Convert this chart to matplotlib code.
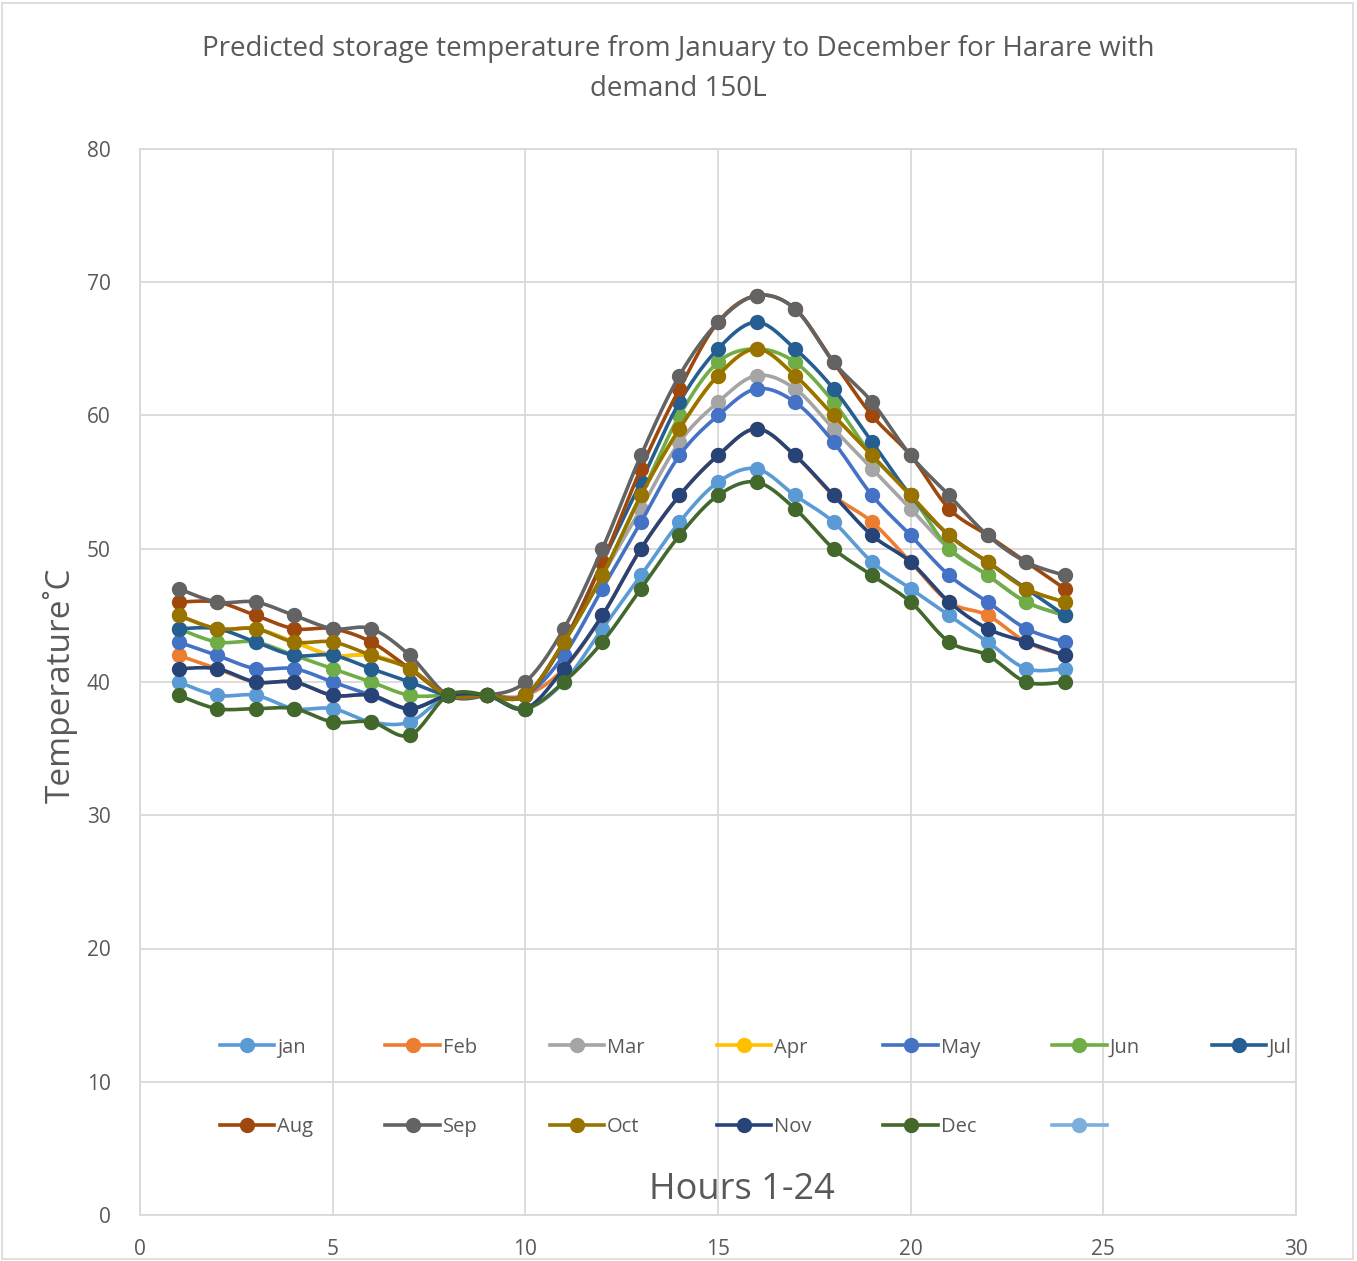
import numpy as np
import matplotlib
matplotlib.use('Agg')
import matplotlib.pyplot as plt
from matplotlib.lines import Line2D
from matplotlib.patches import Rectangle

plt.rcParams['font.family'] = ['Open Sans', 'DejaVu Sans']

hours = list(range(1, 25))
months = ['jan', 'Feb', 'Mar', 'Apr', 'May', 'Jun', 'Jul', 'Aug', 'Sep', 'Oct', 'Nov', 'Dec']
colors = ['#5B9BD5', '#ED7D31', '#A5A5A5', '#FFC000', '#4472C4', '#70AD47',
          '#255E91', '#9E480E', '#636363', '#997300', '#264478', '#43682B']
extra_color = '#7CAFDD'

jan = [40, 39, 39, 38, 38, 37, 37, 39, 39, 38, 40, 44, 48, 52, 55, 56, 54, 52, 49, 47, 45, 43, 41, 41]
feb = [42, 41, 40, 40, 39, 39, 38, 39, 39, 39, 41, 45, 50, 54, 57, 59, 57, 54, 52, 49, 46, 45, 43, 42]
mar = [45, 44, 44, 43, 42, 42, 41, 39, 39, 39, 43, 48, 53, 58, 61, 63, 62, 59, 56, 53, 50, 48, 46, 45]
apr = [45, 44, 44, 43, 42, 42, 41, 39, 39, 39, 43, 48, 54, 59, 63, 65, 63, 60, 57, 54, 51, 49, 47, 46]
may = [43, 42, 41, 41, 40, 39, 38, 39, 39, 39, 42, 47, 52, 57, 60, 62, 61, 58, 54, 51, 48, 46, 44, 43]
jun = [44, 43, 43, 42, 41, 40, 39, 39, 39, 39, 43, 48, 54, 60, 64, 65, 64, 61, 57, 54, 50, 48, 46, 45]
jul = [44, 44, 43, 42, 42, 41, 40, 39, 39, 39, 43, 49, 55, 61, 65, 67, 65, 62, 58, 54, 51, 49, 47, 45]
aug = [46, 46, 45, 44, 44, 43, 41, 39, 39, 39, 43, 49, 56, 62, 67, 69, 68, 64, 60, 57, 53, 51, 49, 47]
sep = [47, 46, 46, 45, 44, 44, 42, 39, 39, 40, 44, 50, 57, 63, 67, 69, 68, 64, 61, 57, 54, 51, 49, 48]
oct_ = [45, 44, 44, 43, 43, 42, 41, 39, 39, 39, 43, 48, 54, 59, 63, 65, 63, 60, 57, 54, 51, 49, 47, 46]
nov = [41, 41, 40, 40, 39, 39, 38, 39, 39, 38, 41, 45, 50, 54, 57, 59, 57, 54, 51, 49, 46, 44, 43, 42]
dec = [39, 38, 38, 38, 37, 37, 36, 39, 39, 38, 40, 43, 47, 51, 54, 55, 53, 50, 48, 46, 43, 42, 40, 40]
series = [jan, feb, mar, apr, may, jun, jul, aug, sep, oct_, nov, dec]


def smooth(x, y, n=20):
    # catmull-rom style curve like excel's smoothed lines
    x = np.asarray(x, float)
    y = np.asarray(y, float)
    px = np.concatenate([[x[0]], x, [x[-1]]])
    py = np.concatenate([[y[0]], y, [y[-1]]])
    t = np.linspace(0, 1, n, endpoint=False)
    xs, ys = [], []
    for i in range(1, len(px) - 2):
        b0x, b0y = px[i], py[i]
        b3x, b3y = px[i + 1], py[i + 1]
        b1x = b0x + (px[i + 1] - px[i - 1]) / 6
        b1y = b0y + (py[i + 1] - py[i - 1]) / 6
        b2x = b3x - (px[i + 2] - px[i]) / 6
        b2y = b3y - (py[i + 2] - py[i]) / 6
        xs.append((1 - t) ** 3 * b0x + 3 * (1 - t) ** 2 * t * b1x + 3 * (1 - t) * t ** 2 * b2x + t ** 3 * b3x)
        ys.append((1 - t) ** 3 * b0y + 3 * (1 - t) ** 2 * t * b1y + 3 * (1 - t) * t ** 2 * b2y + t ** 3 * b3y)
    xs.append([x[-1]])
    ys.append([y[-1]])
    return np.concatenate(xs), np.concatenate(ys)


fig = plt.figure(figsize=(13.57, 12.61), dpi=100)
ax = fig.add_axes([140 / 1357, 1 - 1215 / 1261, 1156 / 1357, 1066 / 1261])

lw = 2.6
ms = 10
handles = []
for name, vals, c in zip(months, series, colors):
    sx, sy = smooth(hours, vals)
    ax.plot(sx, sy, color=c, lw=lw, solid_capstyle='round', zorder=3)
    ax.plot(hours, vals, 'o', color=c, ms=ms, zorder=3)
    handles.append(Line2D([], [], color=c, lw=lw, marker='o', ms=ms))
handles.append(Line2D([], [], color=extra_color, lw=lw, marker='o', ms=ms))
labels = months + ['']

ax.set_xlim(0, 30)
ax.set_ylim(0, 80)
ax.set_xticks(range(0, 31, 5))
ax.set_yticks(range(0, 81, 10))
ax.grid(True, color='#D9D9D9', lw=1.3, zorder=0)
ax.set_axisbelow(True)
for s in ax.spines.values():
    s.set_color('#D9D9D9')
    s.set_linewidth(1.3)
ax.tick_params(length=0, labelsize=15, labelcolor='#595959')
ax.tick_params(axis='x', pad=17)
ax.tick_params(axis='y', pad=21)

# legend in row order (matplotlib fills columns first)
order = [0, 7, 1, 8, 2, 9, 3, 10, 4, 11, 5, 12, 6]
leg = ax.legend([handles[i] for i in order], [labels[i] for i in order],
                ncol=7, mode='expand', loc='lower left',
                bbox_to_anchor=(72 / 1156, 70 / 1066, 1160 / 1156 - 72 / 1156, 110 / 1066),
                frameon=False, fontsize=14.5, handlelength=2.7, handletextpad=0.15,
                labelspacing=2.95, borderaxespad=0)
for t in leg.get_texts():
    t.set_color('#595959')

ax.text(742 / 1357, 1 - 1190 / 1261, 'Hours 1-24', transform=fig.transFigure,
        ha='center', va='center', fontsize=26, color='#595959')
fig.text(60 / 1357, 1 - 685 / 1261, 'Temperature˚C', rotation=90,
         ha='center', va='center', fontsize=24, color='#595959')
fig.text(0.5, 1 - 69 / 1261,
         'Predicted storage temperature from January to December for Harare with\ndemand 150L',
         ha='center', va='center', fontsize=20, color='#595959', linespacing=1.55)

fig.patches.append(Rectangle((2 / 1357, 2 / 1261), 1351 / 1357, 1256 / 1261,
                             transform=fig.transFigure, fill=False, ec='#D9D9D9', lw=1.2))

fig.savefig('out.png', dpi=100)
